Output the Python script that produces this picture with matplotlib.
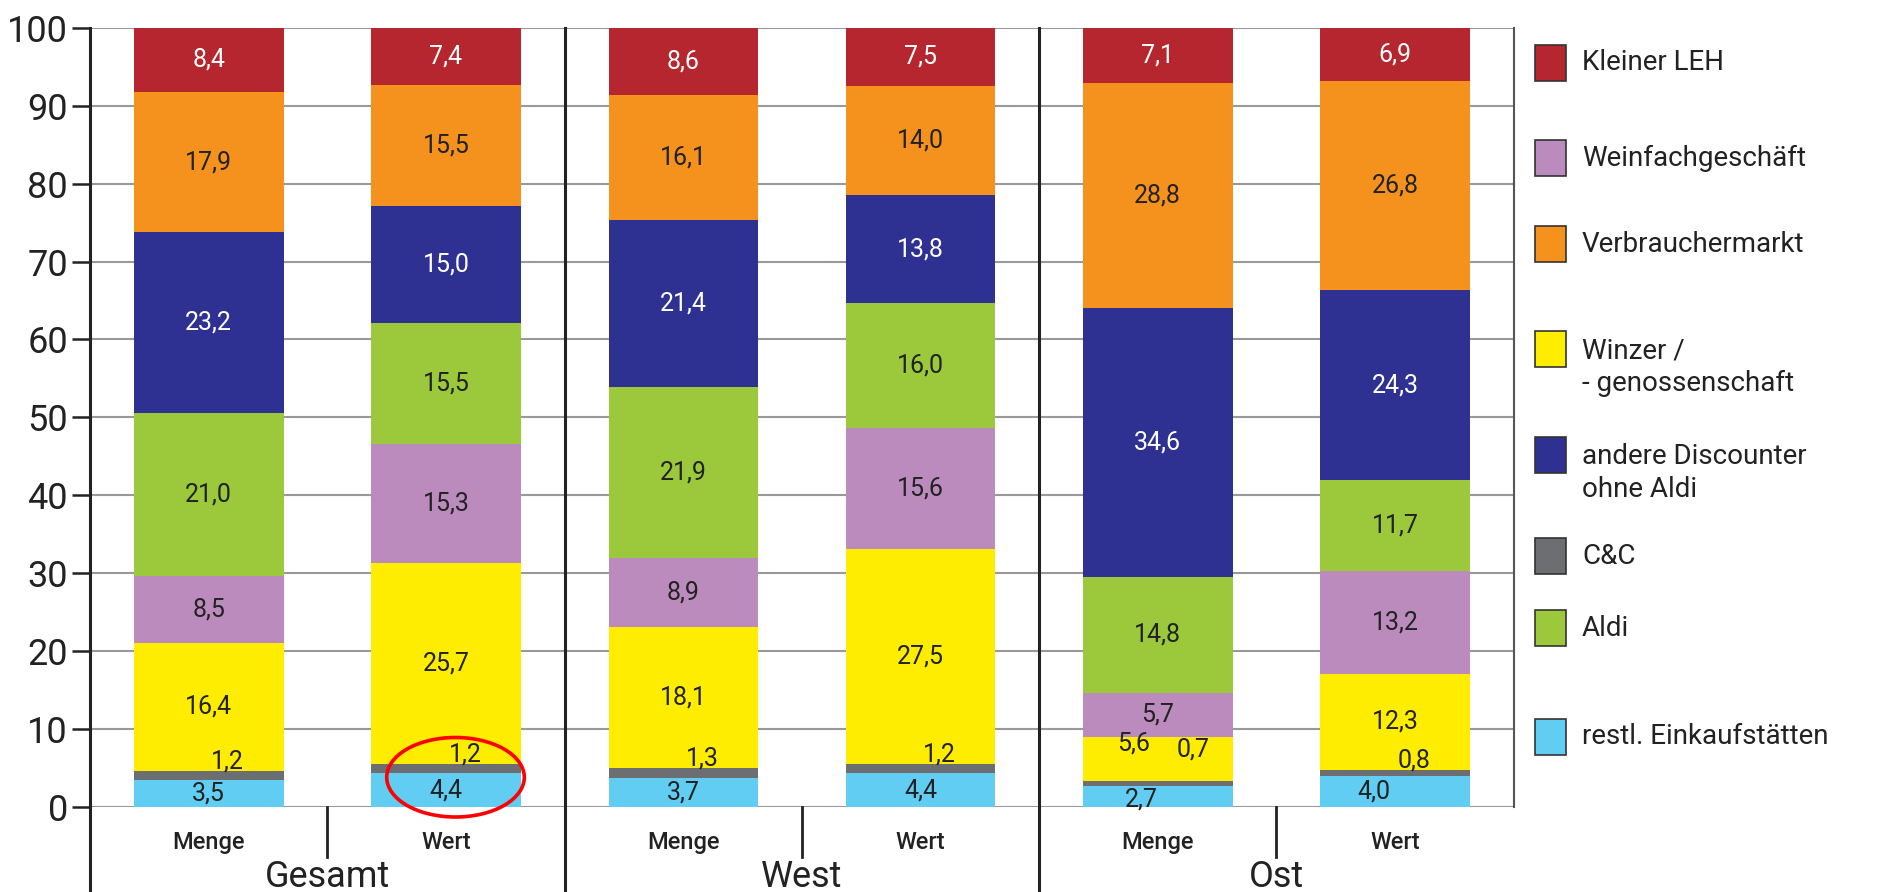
import numpy as np
import matplotlib
matplotlib.use("Agg")
import matplotlib.pyplot as plt
from matplotlib.patches import Ellipse, Rectangle

plt.rcParams['font.family'] = ['Roboto', 'DejaVu Sans']

# Daten (Anteile in %), von unten nach oben gestapelt
bars = ["Menge", "Wert", "Menge", "Wert", "Menge", "Wert"]
groups = ["Gesamt", "West", "Ost"]

restl = [3.5, 4.4, 3.7, 4.4, 2.7, 4.0]
cc = [1.2, 1.2, 1.3, 1.2, 0.7, 0.8]
winzer = [16.4, 25.7, 18.1, 27.5, 5.6, 12.3]
weinfach = [8.5, 15.3, 8.9, 15.6, 5.7, 13.2]
aldi = [21.0, 15.5, 21.9, 16.0, 14.8, 11.7]
discounter = [23.2, 15.0, 21.4, 13.8, 34.6, 24.3]
verbraucher = [17.9, 15.5, 16.1, 14.0, 28.8, 26.8]
leh = [8.4, 7.4, 8.6, 7.5, 7.1, 6.9]

series = [restl, cc, winzer, weinfach, aldi, discounter, verbraucher, leh]
colors = ['#61CDF3', '#6D6E71', '#FFED00', '#BC8BBD', '#9BC93B', '#2E3192', '#F5921E', '#B5262E']
txt_colors = ['#222222', '#222222', '#222222', '#222222', '#222222', 'white', '#222222', 'white']

# Legende (oben nach unten)
leg_labels = ["Kleiner LEH", "Weinfachgeschäft", "Verbrauchermarkt", "Winzer /\n- genossenschaft",
              "andere Discounter\nohne Aldi", "C&C", "Aldi", "restl. Einkaufstätten"]
leg_colors = ['#B5262E', '#BC8BBD', '#F5921E', '#FFED00', '#2E3192', '#6D6E71', '#9BC93B', '#61CDF3']
leg_y = [63, 158, 244, 349, 455, 556, 628, 737]  # Pixel von oben

fig = plt.figure(figsize=(18.78, 8.92), dpi=100)
ax = fig.add_axes([0.048, 0.095, 0.758, 0.874])

x = np.arange(len(bars))
bottom = np.zeros(len(bars))
for vals, col in zip(series, colors):
    ax.bar(x, vals, width=0.63, bottom=bottom, color=col, zorder=3)
    bottom += np.array(vals)

# Beschriftung der Segmente
# kleine Verschiebungen fuer enge Segmente (Serie, Balken) -> (dx, dy)
shift = {(0, 4): (-0.07, -0.3), (0, 5): (-0.09, 0.0),
         (2, 4): (-0.1, 2.0), (1, 4): (0.07, 2.8)}
bottom = np.zeros(len(bars))
for s, (vals, tc) in enumerate(zip(series, txt_colors)):
    for i, v in enumerate(vals):
        xc = x[i]
        yc = bottom[i] + v / 2
        if s == 1:
            xc = x[i] + 0.08
            yc = bottom[i] + v + 1.2
        dx, dy = shift.get((s, i), (0, 0))
        ax.text(xc + dx, yc + dy, f"{v:.1f}".replace('.', ','), ha='center', va='center',
                fontsize=18, color=tc, zorder=5)
    bottom += np.array(vals)

ax.set_xlim(-0.5, 5.5)
ax.set_ylim(0, 100)
ax.set_yticks(np.arange(0, 101, 10))
ax.tick_params(axis='y', length=13, width=1.8, labelsize=26, pad=3, color='#222222',
               labelcolor='#222222')
ax.set_xticks([])
ax.grid(axis='y', color='#999999', lw=1.5, zorder=0)
ax.set_axisbelow(True)
for sp in ['top', 'bottom']:
    ax.spines[sp].set_visible(False)
ax.spines['left'].set_linewidth(2.2)
ax.spines['left'].set_color('#222222')
ax.spines['right'].set_linewidth(1.5)
ax.spines['right'].set_color('#555555')

# Trennlinien zwischen den Gruppen und unter der Achse
ax.plot([-0.5, -0.5], [0, -12], color='#222222', lw=2.2, clip_on=False)
for xs in [1.5, 3.5]:
    ax.plot([xs, xs], [100, -12], color='#222222', lw=2.2, clip_on=False, zorder=4)
for xs in [0.5, 2.5, 4.5]:
    ax.plot([xs, xs], [0, -6.4], color='#222222', lw=2.0, clip_on=False)

for i, b in enumerate(bars):
    ax.text(x[i], -4.5, b, ha='center', va='center', fontsize=17, fontweight='medium',
            color='#222222', clip_on=False)
for g, name in enumerate(groups):
    ax.text(2 * g + 0.5, -9.0, name, ha='center', va='center', fontsize=26,
            color='#222222', clip_on=False)

# rote Markierung
ax.add_patch(Ellipse((1.04, 3.85), 0.58, 10.2, fill=False, edgecolor='#FF0000', lw=2.6,
                     zorder=6, clip_on=False))

# Legende von Hand
W, H = 1878, 892
for lab, col, yp in zip(leg_labels, leg_colors, leg_y):
    fig.patches.append(Rectangle((1535 / W, 1 - (yp + 18) / H), 31 / W, 36 / H,
                                 transform=fig.transFigure, facecolor=col,
                                 edgecolor='#333333', lw=1.2))
    n = lab.count('\n')
    fig.text(1582 / W, 1 - (yp + n * 18) / H, lab, ha='left', va='center', fontsize=20,
             color='#222222', linespacing=1.25)

fig.savefig("out.png", dpi=100)
